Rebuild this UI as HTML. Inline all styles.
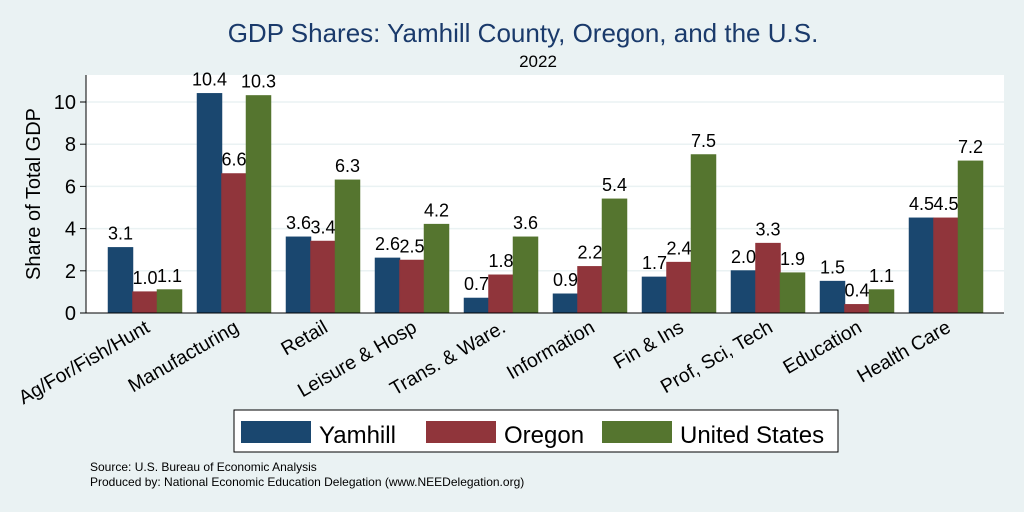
<!DOCTYPE html>
<html><head><meta charset="utf-8"><style>
body{margin:0;background:#eaf2f3;}
svg{display:block;font-family:"Liberation Sans",Arial,sans-serif;}
</style></head><body>
<svg id="chart" width="1024" height="512" viewBox="0 0 1024 512">
<rect x="0" y="0" width="1024" height="512" fill="#eaf2f3"/>
<text x="523" y="42" font-size="26" fill="#1a3a6b" text-anchor="middle">GDP Shares: Yamhill County, Oregon, and the U.S.</text>
<text x="538" y="67" font-size="17" fill="#000" text-anchor="middle">2022</text>
<rect x="86" y="75" width="918" height="238" fill="#fff"/>
<g id="grid"></g><g id="bars"></g><g id="labels"></g><g id="axes"></g>
<text transform="translate(40,194) rotate(-90)" font-size="20" text-anchor="middle">Share of Total GDP</text>
<rect x="234" y="410" width="604" height="42" fill="#fff" stroke="#000" stroke-width="1"/>
<g><rect x="241" y="421" width="70" height="22" fill="#1a476f"/><text x="319" y="443" font-size="24">Yamhill</text></g>
<g><rect x="426" y="421" width="70" height="22" fill="#90353b"/><text x="504" y="443" font-size="24">Oregon</text></g>
<g><rect x="602" y="421" width="70" height="22" fill="#55752f"/><text x="680" y="443" font-size="24">United States</text></g>
<text x="90" y="471" font-size="12">Source: U.S. Bureau of Economic Analysis</text>
<text x="90" y="486" font-size="12">Produced by: National Economic Education Delegation (www.NEEDelegation.org)</text>
</svg>
<script>
const categories=["Ag/For/Fish/Hunt","Manufacturing","Retail","Leisure & Hosp","Trans. & Ware.","Information","Fin & Ins","Prof, Sci, Tech","Education","Health Care"];
const yamhill=[3.1,10.4,3.6,2.6,0.7,0.9,1.7,2.0,1.5,4.5];
const oregon=[1.0,6.6,3.4,2.5,1.8,2.2,2.4,3.3,0.4,4.5];
const us=[1.1,10.3,6.3,4.2,3.6,5.4,7.5,1.9,1.1,7.2];
const yTicks=[0,2,4,6,8,10];
const NS="http://www.w3.org/2000/svg";
const y=v=>313-v*21.1;
const gx=i=>145+i*89;
const bw=24.5;
function mk(t,a,p){const e=document.createElementNS(NS,t);for(const k in a)e.setAttribute(k,a[k]);document.getElementById(p).appendChild(e);return e;}
yTicks.forEach(t=>{
  if(t>0){const g=mk('line',{x1:86,x2:1004,y1:y(t),y2:y(t),stroke:'#eaf2f3','stroke-width':1.5},'grid');
  
  }
  const tk=mk('line',{x1:80,x2:86,y1:y(t),y2:y(t),stroke:'#000'},'axes');
  
  
  const tl=mk('text',{x:76,y:y(t)+7,'font-size':20,'text-anchor':'end'},'axes');tl.textContent=t;
  
  
});
const series=[[yamhill,'#1a476f','yamhill'],[oregon,'#90353b','oregon'],[us,'#55752f','us']];
categories.forEach((c,i)=>{
  series.forEach(([vals,col,nm],s)=>{
    const x0=gx(i)-1.5*bw+s*bw;
    const r=mk('rect',{x:x0,y:y(vals[i]),width:bw,height:y(0)-y(vals[i]),fill:col,stroke:col},'bars');
    
    
    const t=mk('text',{x:x0+bw/2,y:y(vals[i])-8,'font-size':18,'text-anchor':'middle'},'labels');
    t.textContent=vals[i].toFixed(1);
    
    
  });
  const cl=mk('text',{transform:`translate(${gx(i)+6},${331}) rotate(-30)`,'font-size':19.5,'text-anchor':'end'},'axes');
  cl.textContent=c;
  
  
});
const ax=mk('line',{x1:86,x2:86,y1:75,y2:313,stroke:'#000'},'axes');


const bx=mk('line',{x1:86,x2:1004,y1:313,y2:313,stroke:'#000'},'axes');


</script>
</body></html>
